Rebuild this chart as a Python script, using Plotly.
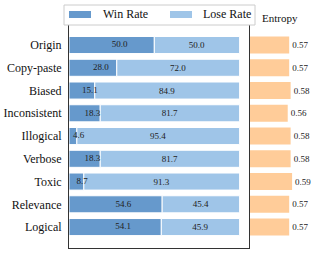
import plotly.graph_objects as go

categories = ["Origin", "Copy-paste", "Biased", "Inconsistent", "Illogical",
              "Verbose", "Toxic", "Relevance", "Logical"]
win_rate = [50.0, 28.0, 15.1, 18.3, 4.6, 18.3, 8.7, 54.6, 54.1]
lose_rate = [50.0, 72.0, 84.9, 81.7, 95.4, 81.7, 91.3, 45.4, 45.9]
entropy = [0.57, 0.57, 0.58, 0.56, 0.58, 0.58, 0.59, 0.57, 0.57]
legend_names = ["Win Rate", "Lose Rate"]

WIN_C = "#6699cc"
LOSE_C = "#9fc5e8"
ENT_C = "#ffcc99"
FONT = "Liberation Serif, Times New Roman, serif"
W, H = 314, 253
T, B = 25, 5
PH = H - T - B


def px(x):
    return x / W


def py(y):
    return (H - B - y) / PH


fig = go.Figure()
fig.add_trace(go.Bar(
    y=categories, x=win_rate, orientation="h", name=legend_names[0],
    marker=dict(color=WIN_C, line=dict(color="white", width=1)),
    width=0.75, xaxis="x", yaxis="y", hoverinfo="skip", showlegend=False))
fig.add_trace(go.Bar(
    y=categories, x=lose_rate, base=win_rate, orientation="h", name=legend_names[1],
    marker=dict(color=LOSE_C, line=dict(color="white", width=1)),
    width=0.75, xaxis="x", yaxis="y",
    text=[f"{v:.1f}" for v in lose_rate], textposition="inside",
    insidetextanchor="middle", constraintext="none",
    textfont=dict(family=FONT, size=9, color="#222"), hoverinfo="skip",
    showlegend=False))
fig.add_trace(go.Scatter(
    y=categories, x=[w / 2 for w in win_rate], mode="text",
    text=[f"{v:.1f}" for v in win_rate], textposition="middle right",
    textfont=dict(family=FONT, size=9, color="#222"),
    showlegend=False, xaxis="x", yaxis="y", hoverinfo="skip", cliponaxis=False))
fig.add_trace(go.Bar(
    y=categories, x=entropy, orientation="h", name="Entropy",
    marker=dict(color=ENT_C, line=dict(width=0)), width=0.75,
    text=[f"{v:.2f}" for v in entropy], textposition="outside",
    textfont=dict(family=FONT, size=9, color="#222"), cliponaxis=False,
    showlegend=False, xaxis="x2", yaxis="y2", hoverinfo="skip"))

shapes = [
    # legend box
    dict(type="rect", xref="paper", yref="paper", x0=px(64), x1=px(255),
         y0=py(25), y1=py(5), line=dict(color="#cccccc", width=1),
         fillcolor="white", layer="above"),
    dict(type="rect", xref="paper", yref="paper", x0=px(69), x1=px(91),
         y0=py(18), y1=py(11), line=dict(width=0), fillcolor=WIN_C, layer="above"),
    dict(type="rect", xref="paper", yref="paper", x0=px(170), x1=px(192),
         y0=py(18), y1=py(11), line=dict(width=0), fillcolor=LOSE_C, layer="above"),
]
annotations = [
    dict(text="Entropy", x=px(280), y=py(18), xref="paper", yref="paper",
         showarrow=False, xanchor="center", yanchor="middle",
         font=dict(family=FONT, size=11, color="#111")),
    dict(text=legend_names[0], x=px(101), y=py(14.5), xref="paper", yref="paper",
         showarrow=False, xanchor="left", yanchor="middle",
         font=dict(family=FONT, size=12, color="#111")),
    dict(text=legend_names[1], x=px(201), y=py(14.5), xref="paper", yref="paper",
         showarrow=False, xanchor="left", yanchor="middle",
         font=dict(family=FONT, size=12, color="#111")),
]

fig.update_layout(
    width=W, height=H,
    margin=dict(l=0, r=0, t=T, b=B),
    paper_bgcolor="white", plot_bgcolor="white",
    barmode="overlay", showlegend=False,
    font=dict(family=FONT, size=12, color="#111"),
    xaxis=dict(domain=[px(69), px(249)], range=[0, 105.5], showticklabels=False,
               showgrid=False, zeroline=False, showline=True, mirror=True,
               linecolor="#333", linewidth=1, ticks=""),
    yaxis=dict(range=[8.92, -0.88], categoryorder="array", categoryarray=categories,
               showgrid=False, zeroline=False, showline=True, mirror=True,
               linecolor="#333", linewidth=1, ticks="", ticklabelstandoff=4,
               tickfont=dict(family=FONT, size=12, color="#111")),
    xaxis2=dict(domain=[px(250), 1], range=[0.3, 0.741], visible=False),
    yaxis2=dict(matches="y", anchor="x2", visible=False),
    shapes=shapes,
    annotations=annotations,
)

fig.write_html("out.html", config={"displayModeBar": False},
               post_script="document.body.style.margin='0';")
